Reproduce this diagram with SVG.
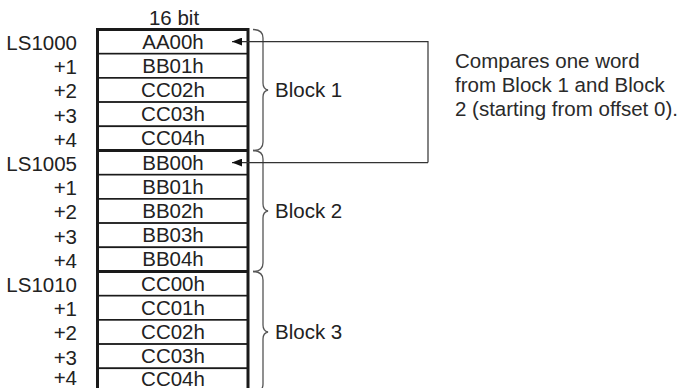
<svg xmlns="http://www.w3.org/2000/svg" width="686" height="388" viewBox="0 0 686 388">
  <style>
    text { font-family: "Liberation Sans", Arial, sans-serif; font-size: 20.5px; fill: #222; }
    .addr { text-anchor: end; }
    .val { text-anchor: middle; }
    .row { fill: #fff; stroke: #1a1a1a; stroke-width: 1.6; }
    .sep { stroke: #1a1a1a; stroke-width: 3; }
    .frame { fill: none; stroke: #1a1a1a; stroke-width: 3; }
    .brace { fill: none; stroke: #555; stroke-width: 1.3; }
    .link { fill: none; stroke: #333; stroke-width: 1.2; }
    .note { fill: #2a2a2a; }
  </style>
  <defs>
    <marker id="head" viewBox="0 0 10 8" refX="10" refY="4" markerWidth="10" markerHeight="8" markerUnits="userSpaceOnUse" orient="auto">
      <path d="M0,0 L10,4 L0,8 Z" fill="#111"/>
    </marker>
  </defs>

  <rect width="686" height="388" fill="#fff"/>

  <text class="val" x="174" y="25">16 bit</text>

  <!-- memory words, rows of 24.2px starting at y=29.5 -->
  <g id="word-ls1000"><rect class="row" x="97.5" y="29.5" width="150.5" height="24.2"/><text class="addr" x="77" y="50">LS1000</text><text class="val" x="173" y="48.5">AA00h</text></g>
  <g id="word-ls1001"><rect class="row" x="97.5" y="53.7" width="150.5" height="24.2"/><text class="addr" x="77" y="74.2">+1</text><text class="val" x="173" y="72.7">BB01h</text></g>
  <g id="word-ls1002"><rect class="row" x="97.5" y="77.9" width="150.5" height="24.2"/><text class="addr" x="77" y="98.4">+2</text><text class="val" x="173" y="96.9">CC02h</text></g>
  <g id="word-ls1003"><rect class="row" x="97.5" y="102.1" width="150.5" height="24.2"/><text class="addr" x="77" y="122.6">+3</text><text class="val" x="173" y="121.1">CC03h</text></g>
  <g id="word-ls1004"><rect class="row" x="97.5" y="126.3" width="150.5" height="24.2"/><text class="addr" x="77" y="146.8">+4</text><text class="val" x="173" y="145.3">CC04h</text></g>

  <g id="word-ls1005"><rect class="row" x="97.5" y="150.5" width="150.5" height="24.2"/><text class="addr" x="77" y="171">LS1005</text><text class="val" x="173" y="169.5">BB00h</text></g>
  <g id="word-ls1006"><rect class="row" x="97.5" y="174.7" width="150.5" height="24.2"/><text class="addr" x="77" y="195.2">+1</text><text class="val" x="173" y="193.7">BB01h</text></g>
  <g id="word-ls1007"><rect class="row" x="97.5" y="198.9" width="150.5" height="24.2"/><text class="addr" x="77" y="219.4">+2</text><text class="val" x="173" y="217.9">BB02h</text></g>
  <g id="word-ls1008"><rect class="row" x="97.5" y="223.1" width="150.5" height="24.2"/><text class="addr" x="77" y="243.6">+3</text><text class="val" x="173" y="242.1">BB03h</text></g>
  <g id="word-ls1009"><rect class="row" x="97.5" y="247.3" width="150.5" height="24.2"/><text class="addr" x="77" y="267.8">+4</text><text class="val" x="173" y="266.3">BB04h</text></g>

  <g id="word-ls1010"><rect class="row" x="97.5" y="271.5" width="150.5" height="24.2"/><text class="addr" x="77" y="292">LS1010</text><text class="val" x="173" y="290.5">CC00h</text></g>
  <g id="word-ls1011"><rect class="row" x="97.5" y="295.7" width="150.5" height="24.2"/><text class="addr" x="77" y="316.2">+1</text><text class="val" x="173" y="314.7">CC01h</text></g>
  <g id="word-ls1012"><rect class="row" x="97.5" y="319.9" width="150.5" height="24.2"/><text class="addr" x="77" y="340.4">+2</text><text class="val" x="173" y="338.9">CC02h</text></g>
  <g id="word-ls1013"><rect class="row" x="97.5" y="344.1" width="150.5" height="24.2"/><text class="addr" x="77" y="364.6">+3</text><text class="val" x="173" y="363.1">CC03h</text></g>
  <g id="word-ls1014"><rect class="row" x="97.5" y="368.3" width="150.5" height="24.2"/><text class="addr" x="77" y="385">+4</text><text class="val" x="173" y="385.5">CC04h</text></g>

  <!-- heavy block separators and outer frame -->
  <line class="sep" x1="97.5" y1="150.5" x2="248" y2="150.5"/>
  <line class="sep" x1="97.5" y1="271.5" x2="248" y2="271.5"/>
  <path class="frame" d="M97.5,400 V29.5 H248 V400"/>

  <!-- block braces -->
  <g id="block1">
    <path class="brace" d="M253,29.5 Q263,29.5 263,38 V83 Q263,89 268,90 Q263,91 263,97 V142 Q263,150.5 253,150.5"/>
    <text x="275" y="97">Block 1</text>
  </g>
  <g id="block2">
    <path class="brace" d="M253,150.5 Q263,150.5 263,159 V204 Q263,210 268,211 Q263,212 263,218 V263 Q263,271.5 253,271.5"/>
    <text x="275" y="218">Block 2</text>
  </g>
  <g id="block3">
    <path class="brace" d="M253,271.5 Q263,271.5 263,280 V325 Q263,331 268,332 Q263,333 263,339 V384 Q263,392.5 253,392.5"/>
    <text x="275" y="339">Block 3</text>
  </g>

  <!-- comparison connectors -->
  <g id="connectors">
    <path class="link" d="M428,162.6 V41.6 H232" marker-end="url(#head)"/>
    <path class="link" d="M428,162.6 H232" marker-end="url(#head)"/>
  </g>

  <g id="note">
    <text class="note" x="455" y="68" font-size="21">Compares one word</text>
    <text class="note" x="455" y="92" font-size="21">from Block 1 and Block</text>
    <text class="note" x="455" y="116" font-size="21">2 (starting from offset 0).</text>
  </g>
</svg>
